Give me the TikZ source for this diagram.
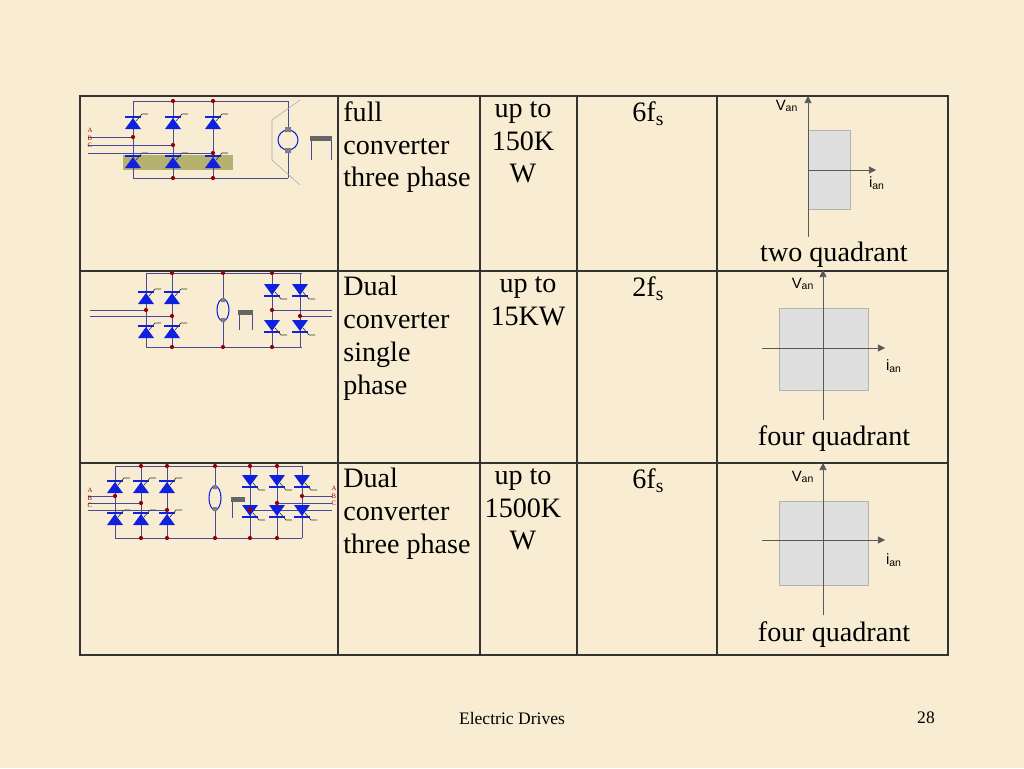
\documentclass[tikz,border=0pt]{standalone}
\usepackage{fontspec}
\setmainfont{Liberation Serif}
\setsansfont{Liberation Sans}
\definecolor{paper}{HTML}{F8EDD3}
\definecolor{wire}{HTML}{4A4A9A}
\definecolor{dotred}{HTML}{990000}
\definecolor{scrblue}{HTML}{1020E0}
\definecolor{olive}{HTML}{B5B270}
\tikzset{
  cell/.style={anchor=north west,align=left,inner sep=0pt,font=\fontsize{16}{18.7}\selectfont},
  mid/.style={anchor=north,align=center,inner sep=0pt,font=\fontsize{16}{18.7}\selectfont},
  axlbl/.style={inner sep=0pt,font=\sffamily\fontsize{8.5}{9}\selectfont},
  abc/.style={font=\fontsize{3.8}{4.3}\selectfont,text=dotred,inner sep=0pt,align=left},
  wr/.style={wire,line width=0.5pt},
  ax/.style={gray!70!black,line width=0.4pt,-{Triangle[length=4pt,width=4pt]}},
  scrup/.pic={
    \fill[scrblue] (-8,6) -- (8,6) -- (0,-5) -- cycle;
    \fill[scrblue] (-8,-7) rectangle (8,-5);
    \draw[black!80,line width=0.35pt] (3,-2) -- (9,-9) -- (15,-9);
  },
  nd/.style={circle,fill=dotred,inner sep=0pt,minimum size=2.4pt}
}
\usetikzlibrary{arrows.meta}
\begin{document}
\begin{tikzpicture}[x=0.02cm,y=-0.02cm]
\fill[paper] (0,0) rectangle (1024,768);
\useasboundingbox (0,0) rectangle (1024,768);
% table
\draw[black!80,line width=0.7pt] (80,96) rectangle (948,655);
\foreach \yy in {271,463} \draw[black!80,line width=0.7pt] (80,\yy) -- (948,\yy);
\foreach \xx in {338,480,577,717} \draw[black!80,line width=0.7pt] (\xx,96) -- (\xx,655);
% texts
\node[cell] (t1) at (343,101) {full\\converter\\three phase};
\node[mid] (p1) at (523,101) {up to\\150K\\W};
\node[cell] (f1) at (632,101) {6f\textsubscript{s}};
\node[cell] (t2) at (343,276) {Dual\\converter\\single\\phase};
\node[mid] (p2) at (528,276) {up to\\15KW};
\node[cell] (f2) at (632,276) {2f\textsubscript{s}};
\node[cell] (t3) at (343,468) {Dual\\converter\\three phase};
\node[mid] (p3) at (523,468) {up to\\1500K\\W};
\node[cell] (f3) at (632,468) {6f\textsubscript{s}};
% quadrant plots
\fill[gray!25] (808,130) rectangle (850,209);
\draw[gray!60,line width=0.3pt] (808,130) rectangle (850,209);
\draw[ax] (808,237) -- (808,96);
\draw[ax] (808,170) -- (876,170);
\node[axlbl] (v1) at (787,106) {V\textsubscript{an}};
\node[axlbl] (i1) at (877,183) {i\textsubscript{an}};
\node[mid] (q1) at (834,242) {two quadrant};
\foreach \r/\yv/\yi/\yt/\ytop/\ybot in {2/348/366/425/308/390,3/540/560/621/501/585}{
  \fill[gray!25] (779,\ytop) rectangle (868,\ybot);
  \draw[gray!60,line width=0.3pt] (779,\ytop) rectangle (868,\ybot);
  \draw[ax] (823,\ybot+30) -- (823,\ytop-38);
  \draw[ax] (762,\yv) -- (885,\yv);
  \node[axlbl] (v\r) at (803,\ytop-24) {V\textsubscript{an}};
  \node[axlbl] (i\r) at (894,\yi) {i\textsubscript{an}};
  \node[mid] (q\r) at (834,\yt) {four quadrant};
}
% circuit 1
\fill[olive] (123,155) rectangle (233,170);
\draw[wr] (133,101) -- (288,101) (133,178) -- (288,178);
\foreach \cx/\py in {133/137,173/145,213/153}{
  \draw[wr] (\cx,101) -- (\cx,178);
  \draw[wr] (88,\py) -- (\cx,\py);
  \pic at (\cx,123) {scrup};
  \pic at (\cx,162) {scrup};
  \node[nd] at (\cx,\py) {};
}
\foreach \cx in {173,213} {\node[nd] at (\cx,101) {}; \node[nd] at (\cx,178) {};}
\node[abc] (abc1) at (90,138) {A\\B\\C};
\draw[wr] (288,101) -- (288,178);
\fill[paper] (288,140) circle (10);
\draw[scrblue,line width=0.6pt] (288,140) circle (10);
\fill[gray] (285,127) rectangle (291,132) (285,148) rectangle (291,153);
\draw[gray!70,line width=0.3pt] (300,100) -- (272,120) -- (272,160) -- (300,185);
\fill[gray!80!black] (310,136) rectangle (332,141);
\draw[wr] (311,141) -- (311,160) (331,141) -- (331,160);
% circuit 2
\draw[wr] (146,273) -- (302,273) (146,347) -- (302,347);
\foreach \cx/\py in {146/310,172/316}{
  \draw[wr] (\cx,273) -- (\cx,347) (90,\py) -- (\cx,\py);
  \pic at (\cx,298) {scrup}; \pic at (\cx,332) {scrup};
  \node[nd] at (\cx,\py) {};
}
\foreach \cx/\py in {272/310,300/316}{
  \draw[wr] (\cx,273) -- (\cx,347) (\cx,\py) -- (332,\py);
  \pic[yscale=-1] at (\cx,290) {scrup}; \pic[yscale=-1] at (\cx,326) {scrup};
  \node[nd] at (\cx,\py) {};
}
\draw[wr] (223,273) -- (223,347);
\fill[paper] (223,310) ellipse (6 and 11);
\draw[scrblue,line width=0.6pt] (223,310) ellipse (6 and 11);
\fill[gray] (221,298) rectangle (225,302) (221,318) rectangle (225,322);
\fill[gray!80!black] (238,310) rectangle (253,315);
\draw[wr] (239,315) -- (239,330) (252,315) -- (252,330);
\foreach \cx in {172,223,272} {\node[nd] at (\cx,273) {}; \node[nd] at (\cx,347) {};}
% circuit 3
\draw[wr] (115,466) -- (302,466) (115,538) -- (302,538);
\foreach \cx/\py in {115/496,141/503,167/510}{
  \draw[wr] (\cx,466) -- (\cx,538) (88,\py) -- (\cx,\py);
  \pic at (\cx,487) {scrup}; \pic at (\cx,519) {scrup};
  \node[nd] at (\cx,\py) {};
}
\foreach \cx/\py in {250/510,277/503,302/496}{
  \draw[wr] (\cx,466) -- (\cx,538) (\cx,\py) -- (332,\py);
  \pic[yscale=-1] at (\cx,481) {scrup}; \pic[yscale=-1] at (\cx,511) {scrup};
  \node[nd] at (\cx,\py) {};
}
\draw[wr] (215,466) -- (215,538);
\fill[paper] (215,498) ellipse (6 and 12);
\draw[scrblue,line width=0.6pt] (215,498) ellipse (6 and 12);
\fill[gray] (213,485) rectangle (217,489) (213,507) rectangle (217,511);
\fill[gray!80!black] (231,497) rectangle (245,502);
\draw[wr] (232,502) -- (232,518);
\foreach \cx in {141,167,215,250,277} {\node[nd] at (\cx,466) {}; \node[nd] at (\cx,538) {};}
\node[abc] (abc3) at (90,498) {A\\B\\C};
\node[abc] (abc4) at (334,496) {A\\B\\C};
% footer
\node[font=\fontsize{10}{12}\selectfont] (ft) at (512,718) {Electric Drives};
\node[font=\fontsize{10}{12}\selectfont] (pg) at (926,718) {28};
\end{tikzpicture}
\end{document}
